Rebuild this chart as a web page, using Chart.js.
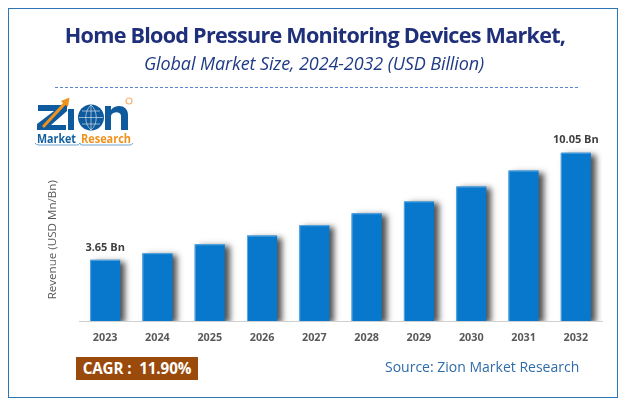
<!DOCTYPE html>
<html><head><meta charset="utf-8">
<script src="https://cdn.jsdelivr.net/npm/chart.js@4"></script>
<style>
html,body{margin:0;padding:0;background:#fff;width:625px;height:406px;overflow:hidden}
#wrap{position:relative;width:625px;height:406px}
#frame{position:absolute;left:8px;top:8px;width:607.5px;height:387.5px;border:1.5px solid #2E75B6}
canvas{position:absolute;left:0;top:0}
.t{position:absolute;white-space:nowrap;font-family:"Open Sans",sans-serif}
#title{left:0;width:630px;text-align:center;top:20px;font-size:21.6px;font-weight:700;color:#1F2F7A;letter-spacing:-.75px;line-height:30px}
#sub{left:0;width:628px;text-align:center;top:51px;font-size:18px;font-style:italic;color:#1F3A86;letter-spacing:-.1px;line-height:24px}
#dash{position:absolute;left:55px;top:86.5px;width:523px;border-top:1px dashed #5B85CF}
#cagr{left:76px;top:357px;width:122px;height:23px;background:#9A4A0B;color:#fff;font-weight:700;font-size:15.2px;line-height:23px;text-align:center;letter-spacing:-.1px}
#src{left:385px;top:356px;font-size:14px;color:#2F6CA8;line-height:22px;letter-spacing:0}
#logo{position:absolute;left:30px;top:92px}
</style></head><body>
<div id="wrap">
<div id="frame"></div>
<canvas id="c" width="625" height="406"></canvas>
<div class="t" id="title">Home Blood Pressure Monitoring Devices Market,</div>
<div class="t" id="sub">Global Market Size, 2024-2032 (USD Billion)</div>
<div id="dash"></div>
<svg id="logo" width="110" height="60" viewBox="0 0 110 60">
 <path d="M8 13H37V19L21 33H36V38H7V32L24 19H8Z" fill="#0F5A9C"/>
 <rect x="38" y="17" width="6" height="21" fill="#0F5A9C"/>
 <path d="M12 34L33 11L31 9L39.5 5.5L38 15L35.5 13L14 36Z" fill="#F0921E"/>
 <circle cx="61" cy="25.5" r="13" fill="#0F5A9C"/>
 <path d="M49 25.5H73M52 19H70M52 32H70M61 13V38M61 13C54 19 54 32 61 38M61 13C68 19 68 32 61 38" fill="none" stroke="#fff" stroke-width=".55"/>
 <path d="M75 38V14H81V18C85 12 98 12 98 23V38H91V24C91 19 82 19 81 24V38Z" fill="#0F5A9C"/>
 <circle cx="99" cy="9" r="3" fill="none" stroke="#F6B26B" stroke-width="1.2"/>
 <text x="7" y="51" font-family="Open Sans" font-weight="700" font-size="12.5" fill="#14609F" textLength="39" lengthAdjust="spacingAndGlyphs">Market</text>
 <text x="51" y="51" font-family="Open Sans" font-weight="700" font-size="12.5" fill="#F0921E" textLength="50" lengthAdjust="spacingAndGlyphs">Research</text>
 <path d="M5 51Q6 53 9 53H48L50 51L51 53H100Q102 53 103 51" fill="none" stroke="#6FA3D0" stroke-width="1"/>
</svg>
<div class="t" id="cagr">CAGR :&nbsp; 11.90%</div>
<div class="t" id="src">Source: Zion Market Research</div>
</div>
<script>
const years = ["2023","2024","2025","2026","2027","2028","2029","2030","2031","2032"];
const revenue = [3.65,4.05,4.58,5.1,5.72,6.43,7.14,8.03,8.98,10.05];
const shownLabels = {0:"3.65 Bn",9:"10.05 Bn"};
const axisTitle = "Revenue (USD Mn/Bn)";

const barShadow = {
  id:'barShadow',
  beforeDatasetDraw(chart){const c=chart.ctx;c.save();c.shadowColor='rgba(50,50,50,.85)';c.shadowOffsetX=5;c.shadowOffsetY=2;c.shadowBlur=6;},
  afterDatasetDraw(chart){chart.ctx.restore();}
};
const endLabels = {
  id:'endLabels',
  afterDatasetsDraw(chart){
    const c=chart.ctx,m=chart.getDatasetMeta(0);
    c.save();c.font='700 11px "Open Sans"';c.fillStyle='#404040';c.textAlign='center';c.textBaseline='bottom';
    for(const i in shownLabels){const b=m.data[i];c.fillText(shownLabels[i],b.x,b.y-7);}
    c.restore();
    // thin light edge along the top and sides of each bar
    c.save();c.strokeStyle='#5AA6E0';c.lineWidth=1;
    m.data.forEach(b=>{const h=b.width/2;c.beginPath();c.moveTo(b.x-h+.5,b.base);c.lineTo(b.x-h+.5,b.y+.5);c.lineTo(b.x+h-.5,b.y+.5);c.stroke();});
    c.restore();
    // axis title placed on the scale's pixel range
    const y=chart.scales.y;
    c.save();c.translate(53,y.getPixelForValue(4.85));c.rotate(-Math.PI/2);
    c.font='11.6px "Open Sans"';c.fillStyle='#595959';c.textAlign='center';c.textBaseline='middle';
    c.fillText(axisTitle,0,0);c.restore();
  }
};
new Chart(document.getElementById('c'),{
  type:'bar',
  data:{labels:years,datasets:[{data:revenue,backgroundColor:'#0878CC',borderWidth:0,barPercentage:.575,categoryPercentage:1}]},
  plugins:[barShadow,endLabels],
  options:{
    responsive:false,animation:false,devicePixelRatio:1,
    layout:{padding:{left:43,right:23,top:120,bottom:0}},
    plugins:{legend:{display:false},tooltip:{enabled:false},title:{display:false}},
    scales:{
      x:{grid:{display:false,drawTicks:false},border:{color:'#D0D0D0',width:1},
         ticks:{color:'#595959',font:{family:'"Open Sans"',size:10.8,weight:'700'},padding:10,maxRotation:0},
         afterFit(s){s.height=85;}},
      y:{min:0,max:12,display:true,grid:{display:false,drawTicks:false},border:{display:false},
         ticks:{display:false},
         afterFit(s){s.width=36;}}
    }
  }
});
</script>
</body></html>
